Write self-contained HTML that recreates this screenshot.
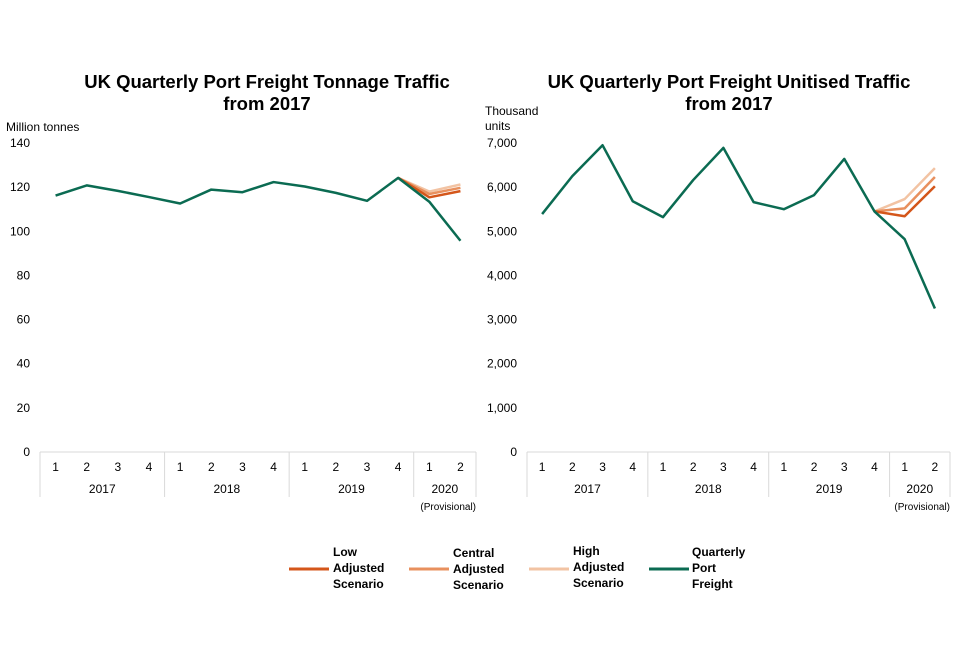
<!DOCTYPE html>
<html><head><meta charset="utf-8"><style>
body{margin:0;background:#fff;font-family:"Liberation Sans",Arial,sans-serif}
svg text{font-family:"Liberation Sans",Arial,sans-serif}
</style></head><body>
<svg id="s" width="960" height="640">
<text x="267" y="88" text-anchor="middle" font-size="18.5" font-weight="bold">UK Quarterly Port Freight Tonnage Traffic</text>
<text x="267" y="110" text-anchor="middle" font-size="18.5" font-weight="bold">from 2017</text>
<text x="6" y="131" font-size="12">Million tonnes</text>
<text x="729" y="88" text-anchor="middle" font-size="18.5" font-weight="bold">UK Quarterly Port Freight Unitised Traffic</text>
<text x="729" y="110" text-anchor="middle" font-size="18.5" font-weight="bold">from 2017</text>
<text x="485" y="115" font-size="12">Thousand</text>
<text x="485" y="130" font-size="12">units</text>
<g>
<line x1="289" y1="569" x2="329" y2="569" stroke="#d4561a" stroke-width="3"/>
<text font-size="12" font-weight="bold"><tspan x="333" y="556">Low</tspan><tspan x="333" y="572">Adjusted</tspan><tspan x="333" y="588">Scenario</tspan></text>
<line x1="409" y1="569" x2="449" y2="569" stroke="#e8905e" stroke-width="3"/>
<text font-size="12" font-weight="bold"><tspan x="453" y="557">Central</tspan><tspan x="453" y="573">Adjusted</tspan><tspan x="453" y="589">Scenario</tspan></text>
<line x1="529" y1="569" x2="569" y2="569" stroke="#f2c3a3" stroke-width="3"/>
<text font-size="12" font-weight="bold"><tspan x="573" y="555">High</tspan><tspan x="573" y="571">Adjusted</tspan><tspan x="573" y="587">Scenario</tspan></text>
<line x1="649" y1="569" x2="689" y2="569" stroke="#0b6b52" stroke-width="3"/>
<text font-size="12" font-weight="bold"><tspan x="692" y="556">Quarterly</tspan><tspan x="692" y="572">Port</tspan><tspan x="692" y="588">Freight</tspan></text>
</g>
</svg>
<script>
const quarters=["1","2","3","4","1","2","3","4","1","2","3","4","1","2"];
const years=["2017","2018","2019","2020"];
const tonnage=[116.2,120.8,118.3,115.5,112.6,118.9,117.7,122.3,120.3,117.4,113.8,124.2,113.4,95.7];
const tonLow=[124.2,115.4,118.2];
const tonCentral=[124.2,116.9,119.7];
const tonHigh=[124.2,118,121.2];
const tonTicks=[0,20,40,60,80,100,120,140];
const units=[5390,6250,6950,5680,5320,6160,6890,5660,5500,5820,6640,5450,4820,3250];
const unLow=[5450,5340,6020];
const unCentral=[5450,5520,6230];
const unHigh=[5450,5730,6430];
const unTicks=[0,1000,2000,3000,4000,5000,6000,7000];
const NS="http://www.w3.org/2000/svg";
const svg=document.getElementById('s');
function mk(t,a,p){const e=document.createElementNS(NS,t);for(const k in a)e.setAttribute(k,a[k]);(p||svg).appendChild(e);return e;}
function chart(cfg){
 const x0=cfg.x0,x1=cfg.x1,y0=452,y1=143,n=quarters.length,w=(x1-x0)/n;
 const X=i=>x0+w*(i+0.5), Y=v=>y0-(v/cfg.max)*(y0-y1);
 const g=mk('g',{});
 
 
 cfg.ticks.forEach(t=>{const e=mk('text',{x:cfg.lx,y:Y(t)+4,'text-anchor':'end','font-size':12},g);e.textContent=cfg.fmt(t);
  
  });
 const ax=mk('line',{x1:x0,y1:y0,x2:x1,y2:y0,stroke:'#d9d9d9','stroke-width':1},g);
 
 
 [0,4,8,12,14].forEach(i=>{const l=mk('line',{x1:x0+w*i,y1:y0,x2:x0+w*i,y2:497,stroke:'#d9d9d9'},g);
  
  });
 quarters.forEach((q,i)=>{const e=mk('text',{x:X(i),y:471,'text-anchor':'middle','font-size':12},g);e.textContent=q;
  
  });
 years.forEach((yr,j)=>{const a=j*4,b=Math.min(a+4,n);const e=mk('text',{x:x0+w*(a+b)/2,y:493,'text-anchor':'middle','font-size':12},g);e.textContent=yr;
  
  });
 const pv=mk('text',{x:x1,y:510,'text-anchor':'end','font-size':10},g);pv.textContent='(Provisional)';
 
 
 function line(vals,start,col,name){const p=mk('polyline',{points:vals.map((v,i)=>X(i+start)+','+Y(v)).join(' '),fill:'none',stroke:col,'stroke-width':2.5,'stroke-linejoin':'round'},g);
  
  }
 line(cfg.high,11,'#f2c3a3',cfg.name+'-high-scenario-line');
 line(cfg.central,11,'#e8905e',cfg.name+'-central-scenario-line');
 line(cfg.low,11,'#d4561a',cfg.name+'-low-scenario-line');
 line(cfg.main,0,'#0b6b52',cfg.name+'-freight-line');
}
chart({name:'tonnage',x0:40,x1:476,lx:30,max:140,ticks:tonTicks,fmt:t=>String(t),main:tonnage,low:tonLow,central:tonCentral,high:tonHigh});
chart({name:'unitised',x0:527,x1:950,lx:517,max:7000,ticks:unTicks,fmt:t=>t.toLocaleString('en-GB'),main:units,low:unLow,central:unCentral,high:unHigh});
</script>
</body></html>
